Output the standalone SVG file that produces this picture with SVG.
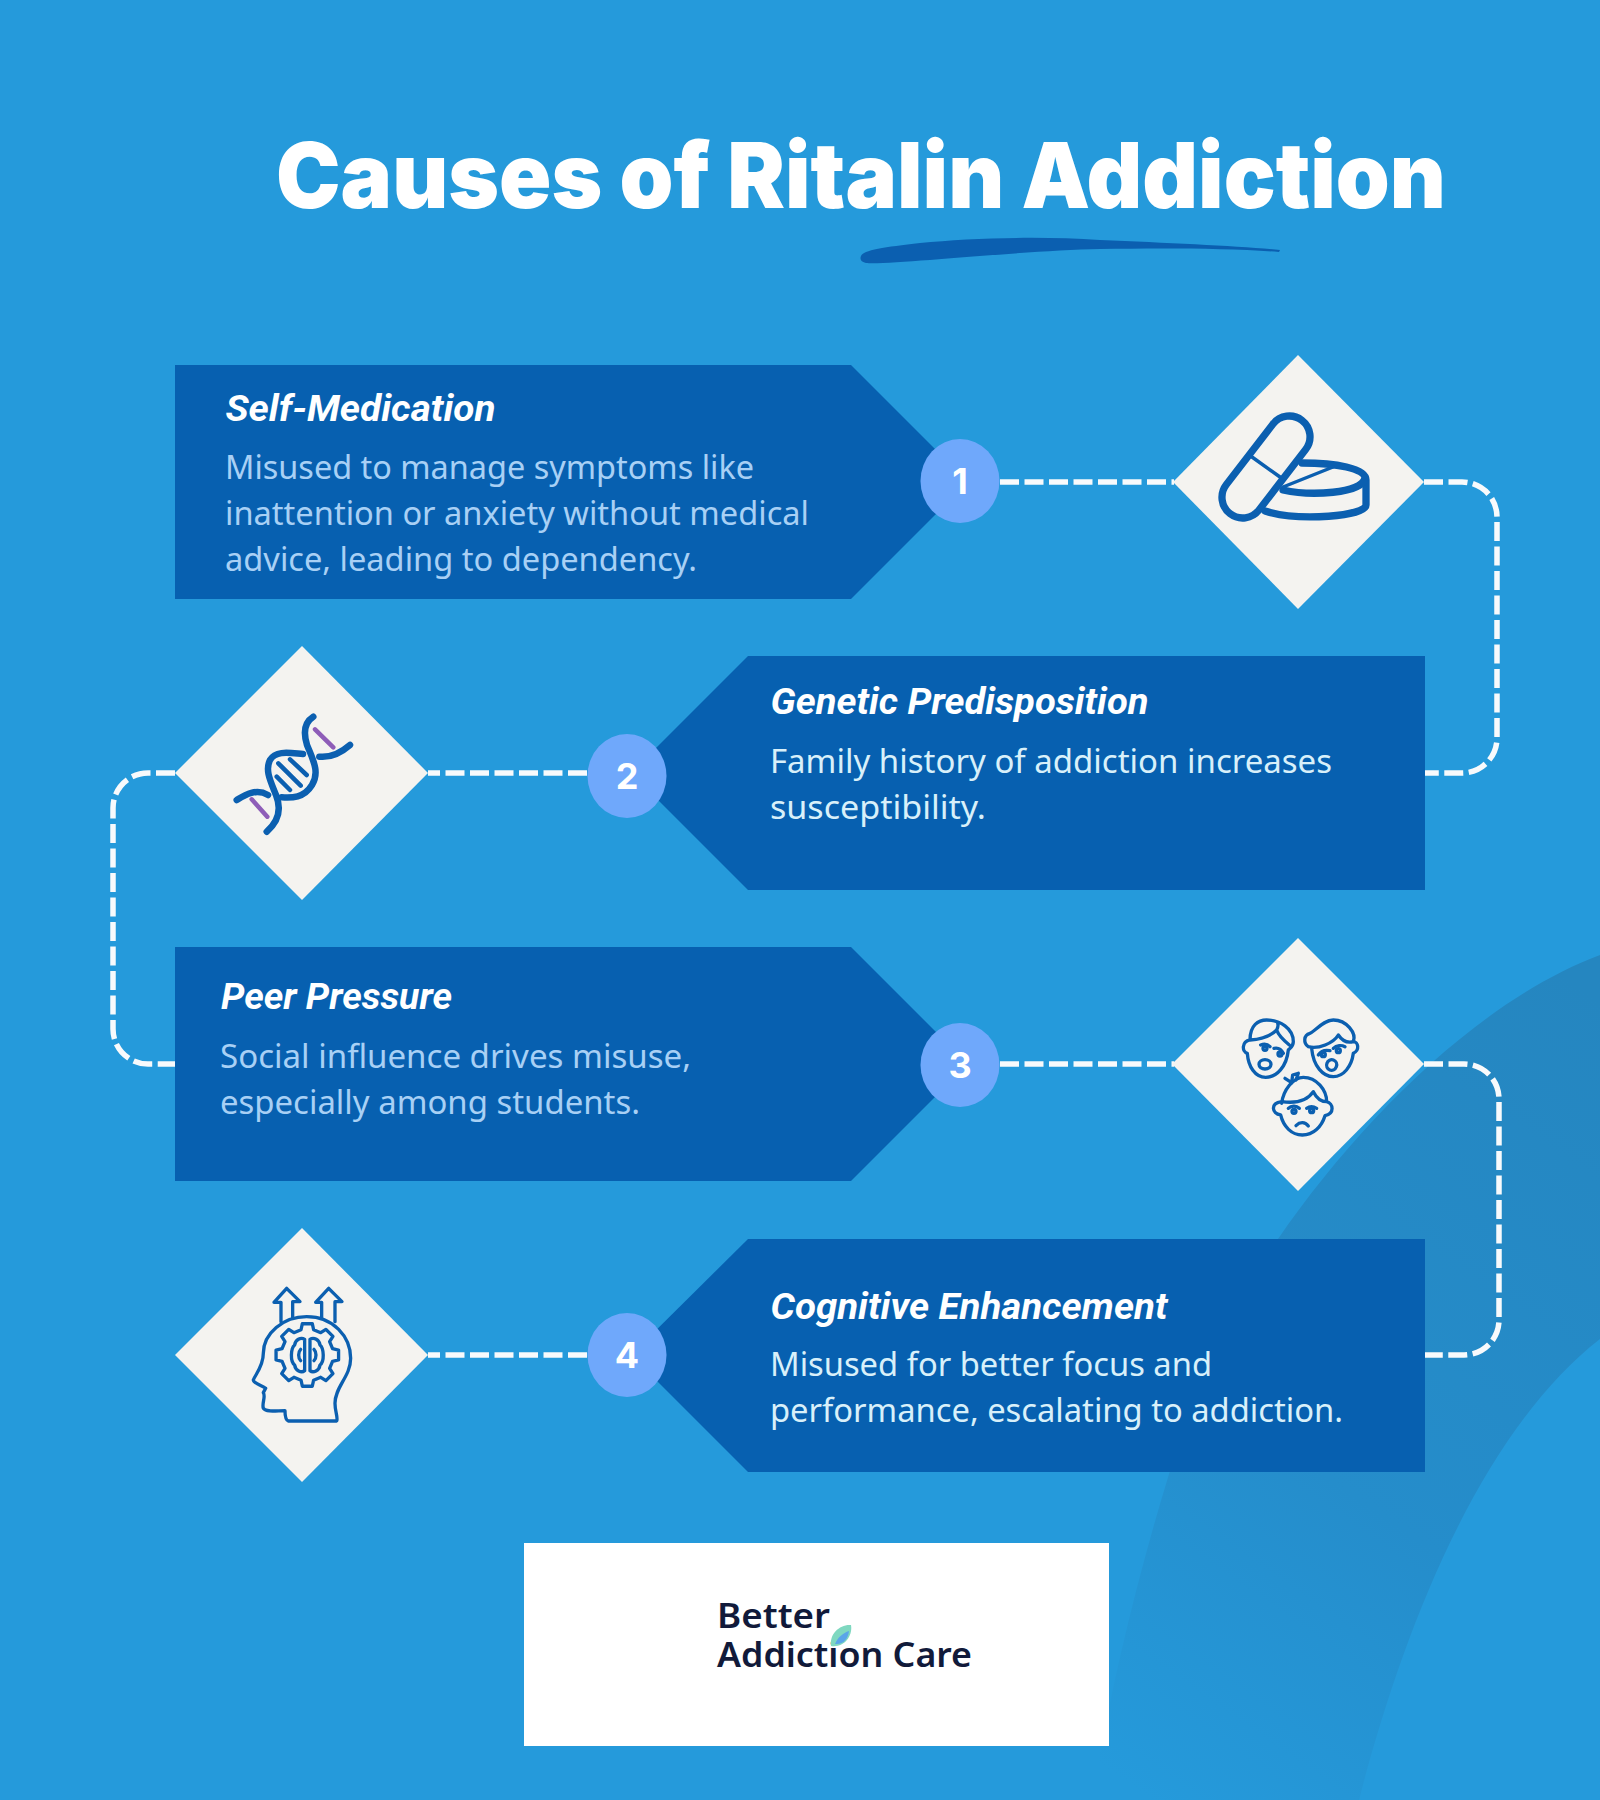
<svg xmlns="http://www.w3.org/2000/svg" width="1600" height="1800" viewBox="0 0 1600 1800">
<style>
.box{fill:#0760B0}
.dia{fill:#F4F3F0}
.num-c{fill:#6FA8FB}
.num{font-family:"Inter","Liberation Sans",sans-serif;font-weight:700;font-size:36px;fill:#fff;text-anchor:middle}
.h{font-family:"Roboto","Liberation Sans",sans-serif;font-weight:700;font-style:italic;font-size:36px;fill:#fff}
.b{font-family:"Noto Sans","Liberation Sans",sans-serif;font-size:32px}
.l{fill:#A8D0F5}
.w{fill:#D8F0FA}
.conn{fill:none;stroke:#F8FAFC;stroke-width:5.5;stroke-dasharray:19 5.5}
.ic{fill:none;stroke:#0B5FB0;stroke-linecap:round;stroke-linejoin:round}
</style>
<defs>
<linearGradient id="band" gradientUnits="userSpaceOnUse" x1="1600" y1="1000" x2="1080" y2="1750">
<stop offset="0" stop-color="#2586C0"/>
<stop offset="0.6" stop-color="#258DCB"/>
<stop offset="1" stop-color="#259ADB"/>
</linearGradient>
</defs>
<rect id="background" width="1600" height="1800" fill="#259ADB"/>
<path id="band-shape" fill="url(#band)" d="M1600 955 C1480 1000 1360 1120 1278 1239 C1225 1315 1195 1390 1169 1474 C1135 1585 1108 1700 1092 1800 H1359 C1395 1660 1470 1440 1600 1339 Z"/>
<g id="title">
<text x="276" y="208" font-family="Inter, 'Liberation Sans', sans-serif" font-weight="900" font-size="91" fill="#fff" textLength="1170" lengthAdjust="spacingAndGlyphs">Causes of Ritalin Addiction</text>
<path fill="#0B5FB0" d="M861 256 C863 250 885 247 920 243 C970 238 1040 236 1100 240 C1170 243 1240 246 1280 250 L1279 252 C1230 248 1160 248 1100 249 C1050 250 980 256 930 260 C900 262 875 264 866 263 C860 262 860 258 861 256Z"/>
</g>
<g id="connectors">
<path class="conn" d="M1000 482 H1174"/>
<path class="conn" d="M1424 482 H1462 A35 35 0 0 1 1497 517 V738 A35 35 0 0 1 1462 773 H1425"/>
<path class="conn" d="M587 773 H428"/>
<path class="conn" d="M175 773 H148 A35 35 0 0 0 113 808 V1029 A35 35 0 0 0 148 1064 H175"/>
<path class="conn" d="M1000 1064 H1174"/>
<path class="conn" d="M1424 1064 H1464 A35 35 0 0 1 1499 1099 V1320 A35 35 0 0 1 1464 1355 H1425"/>
<path class="conn" d="M587 1355 H428"/>
</g>
<g id="node-1">
<polygon class="box" points="175,365 851,365 968,482 851,599 175,599"/>
<ellipse class="num-c" cx="960" cy="481" rx="39.5" ry="42"/>
<text class="num" x="960" y="494">1</text>
<text class="h" x="225.500" y="421" textLength="270" lengthAdjust="spacingAndGlyphs">Self-Medication</text>
<text class="b l" x="225" y="479" textLength="529" lengthAdjust="spacingAndGlyphs">Misused to manage symptoms like</text>
<text class="b l" x="225" y="525" textLength="584" lengthAdjust="spacingAndGlyphs">inattention or anxiety without medical</text>
<text class="b l" x="225" y="571" textLength="472" lengthAdjust="spacingAndGlyphs">advice, leading to dependency.</text>
</g>
<g id="diamond-1">
<polygon class="dia" points="1298,355 1424,482 1298,609 1173,482"/>
<rect class="ic" stroke-width="7.3" x="-20.7" y="-58.9" width="41.4" height="117.8" rx="20.7" transform="translate(1266,467) rotate(37.6)"/>
<path class="ic" stroke-width="3.5" d="M1252 457 L1280 477"/>
<path class="ic" stroke-width="7.3" d="M1302 463 C1335 463 1366 468 1366 480 V505 C1366 516 1300 522 1265 511"/>
<path class="ic" stroke-width="7.3" d="M1283 490 C1310 496 1362 494 1365 478"/>
<path class="ic" stroke-width="3.5" d="M1283 487 L1333 467"/>
</g>
<g id="node-2">
<polygon class="box" points="1425,656 748,656 631,773 748,890 1425,890"/>
<ellipse class="num-c" cx="627" cy="776" rx="39.5" ry="42"/>
<text class="num" x="627" y="789">2</text>
<text class="h" x="770.500" y="714" textLength="378" lengthAdjust="spacingAndGlyphs">Genetic Predisposition</text>
<text class="b w" x="770" y="773" textLength="562" lengthAdjust="spacingAndGlyphs">Family history of addiction increases</text>
<text class="b w" x="770" y="819" textLength="216" lengthAdjust="spacingAndGlyphs">susceptibility.</text>
</g>
<g id="diamond-2">
<polygon class="dia" points="302,646 428,773 302,900 175,773"/>
<g class="ic" stroke-width="6.5">
<path d="M266.7 831.7 C278 822 282 810 276 795 C270 780 265 770 270 760 C276 750 290 753 303 754"/>
<path d="M313.3 716.7 C305 722 303 732 307 745 C313 760 320 772 312 785 C304 798 292 798 281.7 797.3"/>
<path d="M236.7 800 C245 795 256 788 268 795"/>
<path d="M319.3 756.7 C332 758 342 752 350 745"/>
<path stroke-width="4.5" d="M278.3 763.3 L300.7 785.7 M290 759.3 L306.7 775 M276.7 776.7 L290 790"/>
<path stroke="#8E5DB8" stroke-width="4.5" d="M315 729.3 L333.3 747.3 M251.7 799.3 L267.3 816.7"/>
</g>
</g>
<g id="node-3">
<polygon class="box" points="175,947 851,947 968,1064 851,1181 175,1181"/>
<ellipse class="num-c" cx="960" cy="1065" rx="39.5" ry="42"/>
<text class="num" x="960" y="1078">3</text>
<text class="h" x="221" y="1009" textLength="231" lengthAdjust="spacingAndGlyphs">Peer Pressure</text>
<text class="b l" x="220" y="1068" textLength="471" lengthAdjust="spacingAndGlyphs">Social influence drives misuse,</text>
<text class="b l" x="220" y="1114" textLength="420" lengthAdjust="spacingAndGlyphs">especially among students.</text>
</g>
<g id="diamond-3">
<polygon class="dia" points="1298,938 1424,1064 1298,1191 1172,1064"/>
<g class="ic" stroke-width="10" transform="translate(1170,930) scale(0.3333)">
<path d="M240 330 C240 285 265 270 290 270 C330 270 370 295 370 335 C370 350 360 355 355 360 C350 410 320 442 287 442 C255 442 235 410 232 370 C215 365 215 335 240 330 C275 328 300 320 320 300 C325 315 340 330 358 345 M320 300 C325 290 325 280 320 275"/>
<circle cx="285" cy="355" r="6"/><circle cx="330" cy="372" r="6"/>
<path d="M272 345 C285 340 295 345 300 350 M312 355 C325 352 335 360 340 370"/>
<ellipse cx="285" cy="403" rx="18" ry="14"/>
<path d="M425 355 C430 410 460 440 490 440 C520 440 545 410 550 370 C570 360 565 335 550 335 C560 310 530 270 490 270 C460 270 440 300 420 310 C400 315 400 340 415 350 C445 358 490 340 505 315 C515 330 530 340 550 335"/>
<circle cx="460" cy="374" r="6"/><circle cx="505" cy="362" r="6"/>
<path d="M445 375 C455 360 470 360 480 362 M490 355 C500 345 515 345 525 350"/>
<ellipse cx="485" cy="405" rx="15" ry="16" transform="rotate(20 485 405)"/>
<path d="M335 520 C340 480 370 442 400 442 C440 442 470 480 470 515 C490 520 495 550 465 557 C455 590 430 615 397 615 C365 615 340 590 332 555 C305 550 300 520 335 515 C370 520 410 515 430 485 C440 505 455 515 470 515"/>
<path d="M345 445 L365 458 L368 435 L385 430 L378 450"/>
<circle cx="372" cy="544" r="6"/><circle cx="425" cy="542" r="6"/>
<path d="M355 535 C365 525 380 528 388 535 M410 535 C420 528 432 530 440 535"/>
<path d="M378 587 C390 575 405 575 415 588"/>
</g>
</g>
<g id="node-4">
<polygon class="box" points="1425,1239 748,1239 631,1355 748,1472 1425,1472"/>
<ellipse class="num-c" cx="627" cy="1355" rx="39.5" ry="42"/>
<text class="num" x="627" y="1368">4</text>
<text class="h" x="770.500" y="1318.500" textLength="397" lengthAdjust="spacingAndGlyphs">Cognitive Enhancement</text>
<text class="b w" x="770" y="1376" textLength="442" lengthAdjust="spacingAndGlyphs">Misused for better focus and</text>
<text class="b w" x="770" y="1422" textLength="573" lengthAdjust="spacingAndGlyphs">performance, escalating to addiction.</text>
</g>
<g id="diamond-4">
<polygon class="dia" points="302,1228 428,1355 302,1482 175,1355"/>
<g class="ic" stroke-width="10" transform="translate(170,1220) scale(0.3333)">
<path d="M333 305 V247 H312 L350 205 L390 245 H368 V295 M455 295 V247 H437 L476 205 L516 245 H495 V305"/>
<path d="M280 400 C280 340 340 290 410 290 C490 290 542 350 542 415 C542 470 495 500 495 550 C495 575 505 595 500 603 H355 C348 600 345 590 345 572 C320 572 290 578 280 565 C275 550 288 530 280 518 L287 505 C275 495 250 490 250 480 C255 465 280 440 280 400Z"/>
<polygon transform="translate(412,405)" points="-18.9,-75.7 -14.9,-93.8 14.9,-93.8 18.9,-75.7 40.2,-66.9 55.8,-76.9 76.9,-55.8 66.9,-40.2 75.7,-18.9 93.8,-14.9 93.8,14.9 75.7,18.9 66.9,40.2 76.9,55.8 55.8,76.9 40.2,66.9 18.9,75.7 14.9,93.8 -14.9,93.8 -18.9,75.7 -40.2,66.9 -55.8,76.9 -76.9,55.8 -66.9,40.2 -75.7,18.9 -93.8,14.9 -93.8,-14.9 -75.7,-18.9 -66.9,-40.2 -76.9,-55.8 -55.8,-76.9 -40.2,-66.9"/>
<path d="M404 358 C392 350 376 360 374 375 C362 385 360 425 374 435 C376 452 394 460 404 452 Z M420 358 C432 350 448 360 450 375 C462 385 464 425 450 435 C448 452 430 460 420 452 Z"/>
<path d="M392 388 C384 396 384 414 392 422 M432 388 C440 396 440 414 432 422"/>
</g>
</g>
<g id="logo">
<rect x="524" y="1543" width="585" height="203" fill="#fff"/>
<text x="717" y="1628" font-family="'Noto Sans','Liberation Sans',sans-serif" font-weight="600" font-size="35" fill="#111A3A" textLength="113" lengthAdjust="spacingAndGlyphs">Better</text>
<text x="717" y="1667" font-family="'Noto Sans','Liberation Sans',sans-serif" font-weight="600" font-size="35" fill="#111A3A" textLength="255" lengthAdjust="spacingAndGlyphs">Addiction Care</text>
<path d="M831 1646 C829 1634 840 1624 851 1625 C853 1637 843 1648 831 1646Z" fill="#7FD8C0"/>
<path d="M835 1644 C838 1637 843 1633 849 1631 C848 1639 843 1645 835 1644Z" fill="#5AA5E8"/>
</g>
</svg>
